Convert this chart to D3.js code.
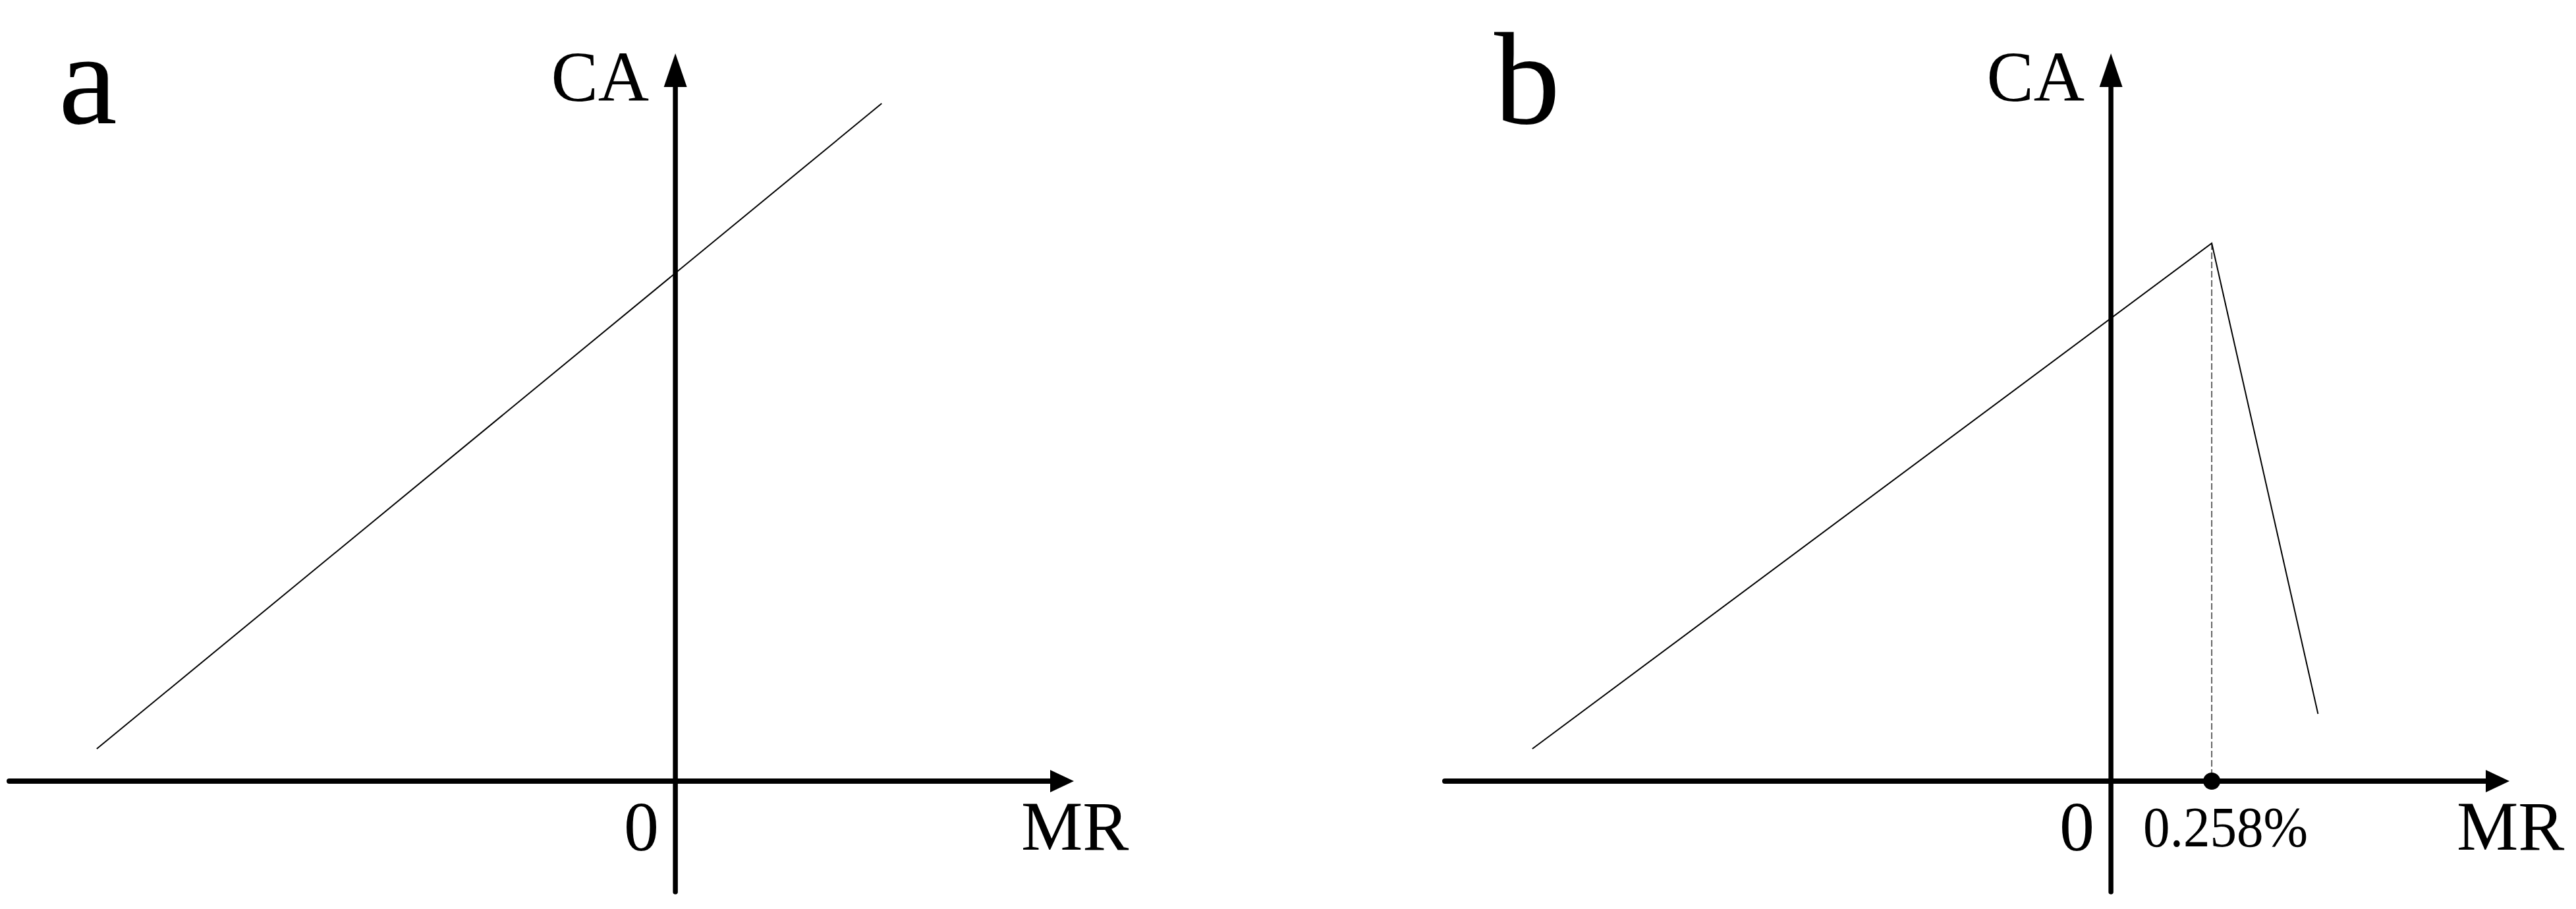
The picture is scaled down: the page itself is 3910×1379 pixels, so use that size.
<!DOCTYPE html>
<html>
<head>
<meta charset="utf-8">
<script src="https://cdn.jsdelivr.net/npm/d3@7"></script>
<style>
  html, body { margin: 0; padding: 0; background: #fff; }
  svg { display: block; }
  text { font-family: "Liberation Serif", "Times New Roman", serif; fill: #000; }
</style>
</head>
<body>
<script>
// ---- data (MR in %, CA in arbitrary schematic units) ----
const panelLabels = ["a", "b"];
const axisNames = { x: "MR", y: "CA" };
const originLabel = "0";
const mrDomain = [-1.705, 1.02];      // extent of MR axis
const caDomain = [-1.68, 11.04];      // extent of CA axis
// Panel a: linear relationship
const lineA_MR = [-1.481, 0.528];
const lineA_CA = [0.49, 10.28];
// Panel b: piecewise relationship with threshold
const lineB_MR = [-1.481, 0.258, 0.530];
const lineB_CA = [0.49, 8.16, 1.02];
const thresholdMR = 0.258;
const thresholdLabel = "0.258%";

// ---- layout ----
const W = 3910, H = 1379;
const svg = d3.select("body").append("svg").attr("width", W).attr("height", H);

const panels = [
  { label: panelLabels[0], xr: [14, 1630], labelX: 89, mr: lineA_MR, ca: lineA_CA, threshold: false },
  { label: panelLabels[1], xr: [2193, 3809], labelX: 2268, mr: lineB_MR, ca: lineB_CA, threshold: true }
];

const y = d3.scaleLinear().domain(caDomain).range([1353, 81]);

panels.forEach(p => {
  const x = d3.scaleLinear().domain(mrDomain).range(p.xr);
  const g = svg.append("g");
  const x0 = x(0), y0 = y(0);

  // horizontal axis with arrow
  const xTip = x(mrDomain[1]);
  g.append("line")
    .attr("x1", x(mrDomain[0])).attr("x2", xTip - 34)
    .attr("y1", y0).attr("y2", y0)
    .attr("stroke", "#000").attr("stroke-width", 8).attr("stroke-linecap", "round");
  g.append("path")
    .attr("d", `M${xTip},${y0} L${xTip - 36},${y0 - 17} L${xTip - 36},${y0 + 17} Z`)
    .attr("fill", "#000");

  // vertical axis with arrow
  const yTip = y(caDomain[1]);
  g.append("line")
    .attr("x1", x0).attr("x2", x0)
    .attr("y1", y(caDomain[0])).attr("y2", yTip + 50)
    .attr("stroke", "#000").attr("stroke-width", 7.5).attr("stroke-linecap", "round");
  g.append("path")
    .attr("d", `M${x0},${yTip} L${x0 - 17.5},${yTip + 51} L${x0 + 17.5},${yTip + 51} Z`)
    .attr("fill", "#000");

  // threshold marker
  if (p.threshold) {
    const peakIdx = p.mr.indexOf(thresholdMR);
    g.append("line")
      .attr("x1", x(thresholdMR)).attr("x2", x(thresholdMR))
      .attr("y1", y(p.ca[peakIdx])).attr("y2", y0)
      .attr("stroke", "#111").attr("stroke-width", 1.3).attr("stroke-dasharray", "10,4");
    g.append("circle")
      .attr("cx", x(thresholdMR)).attr("cy", y0).attr("r", 13).attr("fill", "#000");
    g.append("text")
      .attr("x", x(thresholdMR) - 104).attr("y", 1284)
      .attr("font-size", 86)
      .attr("textLength", 250).attr("lengthAdjust", "spacingAndGlyphs")
      .text(thresholdLabel);
  }

  // data line
  const pts = p.mr.map((m, i) => [x(m), y(p.ca[i])]);
  g.append("path")
    .attr("d", d3.line()(pts))
    .attr("fill", "none").attr("stroke", "#000").attr("stroke-width", 2)
    .attr("stroke-linejoin", "miter");

  // labels
  g.append("text").attr("x", p.labelX).attr("y", 187).attr("font-size", 200).text(p.label);
  g.append("text").attr("x", x0 - 40).attr("y", 153).attr("font-size", 107)
    .attr("text-anchor", "end").text(axisNames.y);
  g.append("text").attr("x", x0 - 25).attr("y", 1290).attr("font-size", 106)
    .attr("text-anchor", "end").text(originLabel);
  g.append("text").attr("x", xTip - 80).attr("y", 1289).attr("font-size", 105)
    .text(axisNames.x);
});
</script>
</body>
</html>
